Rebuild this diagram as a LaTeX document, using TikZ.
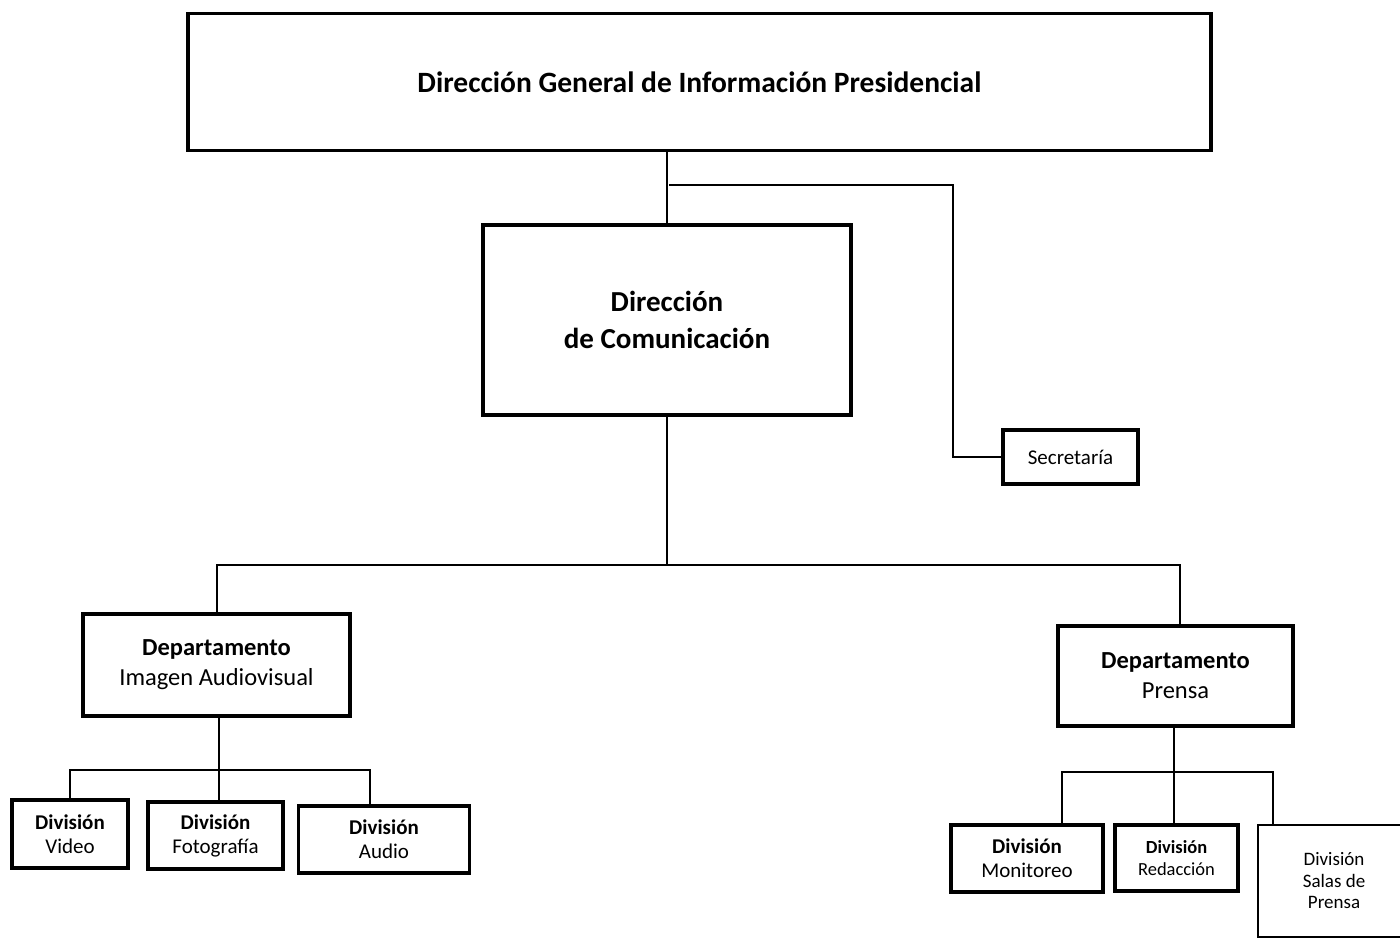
\documentclass[tikz,border=0pt]{standalone}
\usepackage{fontspec}
\setmainfont{Carlito}
\usepackage{tikz}
\tikzstyle{block} = [rectangle, draw, line width=3.4pt, fill=white,
                 inner sep=0pt, align=center]
\tikzstyle{branch} = [line width=2pt, draw]

\begin{document}
\begin{tikzpicture}[x=1pt, y=-1pt]
\useasboundingbox (0,0) rectangle (1400,939);

\node [block, minimum width=1023pt, minimum height=137pt,
       font=\fontsize{29.5}{34}\selectfont\bfseries] at (699.5,82) (dgip)
       {Dirección General de Información Presidencial};
\node [block, minimum width=368pt, minimum height=190pt,
       font=\fontsize{29}{37}\selectfont\bfseries] at (667,320) (dc)
       {Dirección\\de Comunicación};
\node [block, minimum width=135pt, minimum height=54pt,
       font=\fontsize{21}{24}\selectfont] at (1070.5,457) (sec) {Secretaría};

\node [block, minimum width=267pt, minimum height=102pt,
       font=\fontsize{24.5}{30}\selectfont] at (216.5,665) (dia)
       {\textbf{Departamento}\\Imagen Audiovisual};
\node [block, minimum width=235pt, minimum height=100pt,
       font=\fontsize{24.5}{30}\selectfont] at (1175.5,676) (dp)
       {\textbf{Departamento}\\Prensa};

\node [block, minimum width=116pt, minimum height=68pt,
       font=\fontsize{21}{24}\selectfont] at (70,834) (video)
       {\textbf{División}\\Video};
\node [block, minimum width=135pt, minimum height=67pt,
       font=\fontsize{21}{24}\selectfont] at (215.5,835.5) (foto)
       {\textbf{División}\\Fotografía};
\node [block, minimum width=171pt, minimum height=67pt,
       font=\fontsize{21}{24}\selectfont] at (384,839.5) (audio)
       {\textbf{División}\\Audio};

\node [block, minimum width=152pt, minimum height=67pt,
       font=\fontsize{21}{24}\selectfont] at (1027,858.5) (monit)
       {\textbf{División}\\Monitoreo};
\node [block, minimum width=123pt, minimum height=66pt,
       font=\fontsize{18.5}{22}\selectfont] at (1176.5,858) (redac)
       {\textbf{División}\\Redacción};
\node [block, line width=2pt, minimum width=152pt, minimum height=112pt,
       font=\fontsize{19}{21.5}\selectfont] at (1334,881) (salas)
       {División\\Salas de\\Prensa};

\coordinate (secstart) at (669,185);
\coordinate (secbend) at (953,185);
\coordinate (bus) at (667,565);
\coordinate (lbus) at (219,770);
\coordinate (rbus) at (1174,772);

\path [branch] (dc.north) -- (dc.north |- dgip.south);
\path [branch] (secstart) -- (secbend) |- (sec.west);
\path [branch] (dc.south) -- (bus);
\path [branch] (bus) -| (dia.north);
\path [branch] (bus) -| ([xshift=4pt]dp.north);

\path [branch] (lbus |- dia.south) -- (lbus);
\path [branch] (lbus) -| (video.north);
\path [branch] (lbus) -| ([xshift=-14pt]audio.north);
\path [branch] (lbus) -- (lbus |- foto.north);

\path [branch] (rbus |- dp.south) -- (rbus);
\path [branch] (rbus) -| ([xshift=35pt]monit.north);
\path [branch] (rbus) -| ([xshift=-61pt]salas.north);
\path [branch] (rbus) -- (rbus |- redac.north);

\end{tikzpicture}
\end{document}
